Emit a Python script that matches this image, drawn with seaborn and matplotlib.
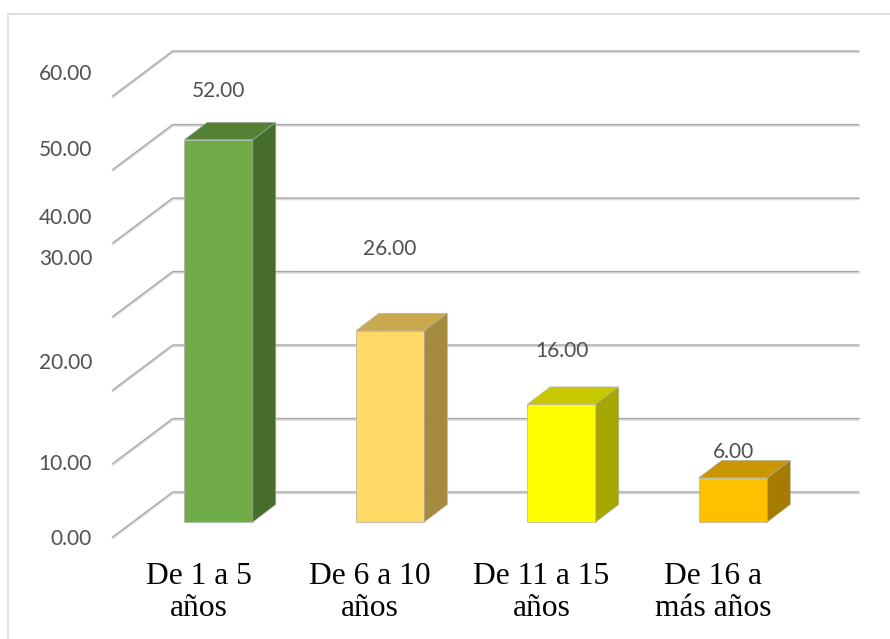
import numpy as np
import pandas as pd
import matplotlib
matplotlib.use("Agg")
import matplotlib.pyplot as plt
import seaborn as sns
from matplotlib.patches import Polygon, Rectangle
from matplotlib.transforms import ScaledTranslation

# ---------------- data ----------------
categories = ["De 1 a 5\naños", "De 6 a 10\naños", "De 11 a 15\naños", "De 16 a\nmás años"]
values = [52.00, 26.00, 16.00, 6.00]
value_labels = ["52.00", "26.00", "16.00", "6.00"]
ytick_labels = ["0.00", "10.00", "20.00", "30.00", "40.00", "50.00", "60.00"]
grid_levels = [0, 10, 20, 30, 40, 50, 60]

# ---------------- style / layout ----------------
front_colors = ["#70AD47", "#FFD966", "#FFFF00", "#FFC000"]
top_colors = ["#548235", "#C9A94E", "#C8C800", "#C79600"]
side_colors = ["#466D2C", "#A68A3F", "#A6A600", "#A67C00"]
ytick_pos = [-2.1, 8.1, 21.9, 36.0, 41.6, 50.9, 61.2]   # Excel's uneven label placement
label_lift = [6.7, 11.2, 7.3, 3.5]

W, H, DPI = 890, 639, 100
sns.set_style("white")
fig = plt.figure(figsize=(W / DPI, H / DPI), dpi=DPI)
fig.patch.set_facecolor("white")

ax_left_px, ax_w_px = 132.75, 686.0
y_lo, y_hi = -5, 65
sy = 7.35                                  # pixels per value unit
ax_bottom_px = H - (522 + (-y_lo) * sy)
ax = fig.add_axes([ax_left_px / W, ax_bottom_px / H, ax_w_px / W, (y_hi - y_lo) * sy / H])
ax.set_facecolor("none")

df = pd.DataFrame({"cat": categories, "val": values})
sns.barplot(data=df, x="cat", y="val", hue="cat", palette=front_colors, saturation=1,
            width=0.4, ax=ax, legend=False, edgecolor="#b0b0b0", linewidth=0.5, zorder=3)
ax.set_xlim(-0.5, 3.5)
ax.set_ylim(y_lo, y_hi)
sx = ax_w_px / 4.0


def d(dx_px, dy_px):
    return dx_px / sx, dy_px / sy


# 3D walls: gridlines on back wall and left wall
bx, by = d(40, 30)
fx, fy = d(-20, -15)
x0, x1 = ax.get_xlim()
for v in grid_levels:
    xs = [x0 + fx, x0 + bx, x1 + bx]
    ys = [v + fy, v + by, v + by]
    ax.plot(xs, [y - 1.0 / sy for y in ys], color="#d9d9d9", lw=1.8, zorder=1,
            clip_on=False, solid_capstyle="round", solid_joinstyle="round")
    ax.plot(xs, ys, color="#a6a6a6", lw=0.9, zorder=1.1, clip_on=False,
            solid_capstyle="round", solid_joinstyle="round")

# 3D bar faces
ddx, ddy = d(23, 17.5)
bars = sorted(ax.patches, key=lambda p: p.get_x())
for i, p in enumerate(bars):
    bx0 = p.get_x()
    bw = p.get_width()
    h = p.get_height()
    top = Polygon([(bx0, h), (bx0 + bw, h), (bx0 + bw + ddx, h + ddy), (bx0 + ddx, h + ddy)],
                  closed=True, facecolor=top_colors[i], edgecolor="#b0b0b0", lw=0.4, zorder=3)
    side = Polygon([(bx0 + bw, 0), (bx0 + bw, h), (bx0 + bw + ddx, h + ddy), (bx0 + bw + ddx, ddy)],
                   closed=True, facecolor=side_colors[i], edgecolor="#b0b0b0", lw=0.4, zorder=3)
    ax.add_patch(top)
    ax.add_patch(side)

# data labels
for i, (v, lab) in enumerate(zip(values, value_labels)):
    ax.text(i, v + label_lift[i], lab, ha="center", va="center", fontsize=15,
            family="Lato", color="#505050", zorder=5)

# axes ticks
ax.set_yticks(ytick_pos, ytick_labels)
ax.set_xticks(range(len(categories)), categories)
ax.tick_params(axis="y", length=0, pad=29.3, labelsize=15, labelcolor="#505050")
ax.tick_params(axis="x", length=0, pad=2, labelsize=22.7, labelcolor="black")
for t in ax.get_yticklabels():
    t.set_fontfamily("Lato")
shift = ScaledTranslation(-20 / DPI, 0, fig.dpi_scale_trans)
for t in ax.get_xticklabels():
    t.set_fontfamily("Liberation Serif")
    t.set_linespacing(1.16)
    t.set_transform(t.get_transform() + shift)
ax.set_xlabel("")
ax.set_ylabel("")
for s in ax.spines.values():
    s.set_visible(False)
ax.grid(False)

# chart frame
fig.add_artist(Rectangle((7.5 / W, -0.05), 1.1, 1 - 13.5 / H + 0.05, transform=fig.transFigure,
                         fill=False, edgecolor="#d9d9d9", lw=1.2, zorder=0))

fig.savefig("out.png", dpi=DPI)
